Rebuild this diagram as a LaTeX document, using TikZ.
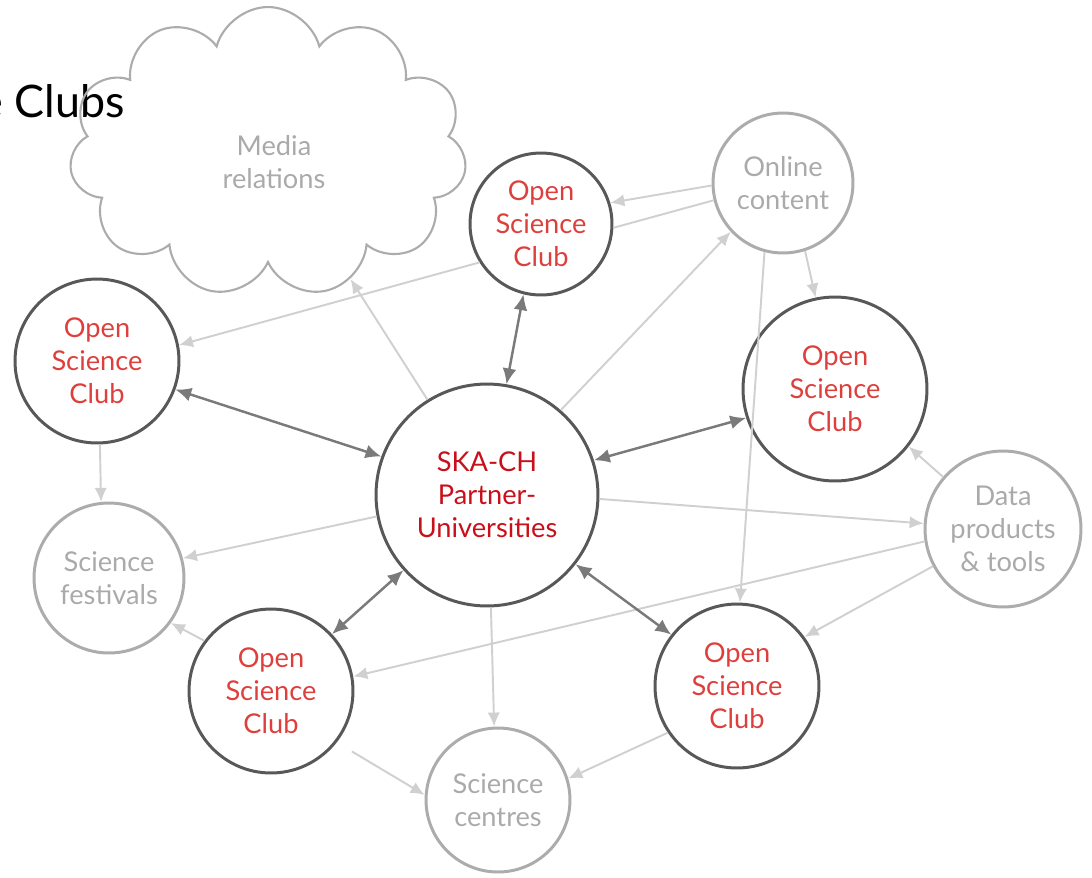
\documentclass[tikz,border=0pt]{standalone}
\usepackage{fontspec}
\setmainfont{Lato}
\usetikzlibrary{arrows.meta,shapes.symbols}

\definecolor{clubred}{RGB}{221,64,60}
\definecolor{hubred}{RGB}{200,16,26}
\definecolor{ringdark}{RGB}{88,88,88}
\definecolor{ringlight}{RGB}{172,172,172}
\definecolor{textlight}{RGB}{170,170,170}
\definecolor{arrowlight}{RGB}{208,208,208}
\definecolor{arrowdark}{RGB}{122,122,122}

\begin{document}
\begin{tikzpicture}[x=0.02cm,y=-0.02cm,
	every node/.style={align=center,font=\fontsize{15.5}{18.8}\selectfont},
	club/.style={circle,draw=ringdark,line width=1.7pt,text=clubred,inner sep=0pt},
	hub/.style={club,text=hubred},
	venue/.style={circle,draw=ringlight,line width=1.7pt,text=textlight,inner sep=0pt},
	soft/.style={-{Latex[length=8pt,width=7pt]},draw=arrowlight,line width=1.1pt},
	link/.style={{Latex[length=9pt,width=8pt]}-{Latex[length=9pt,width=8pt]},draw=arrowdark,line width=1.4pt}]

	\useasboundingbox (0,0) rectangle (1092,877);

	\node[anchor=east,inner sep=0pt,font=\fontsize{25.5}{30}\selectfont] (title) at (125,101) {e Clubs};

	\node[cloud,cloud puffs=11,aspect=1.4,draw=ringlight,line width=1.2pt,
		minimum width=7.95cm,minimum height=5.8cm] (media) at (268,152) {};
	\node[text=textlight] (medialabel) at (274,162) {Media\\relations};

	\node[hub,minimum size=4.44cm] (ska) at (487,495) {SKA-CH\\Partner-\\Universities};
	\node[club,minimum size=2.84cm] (top) at (541,224) {Open\\Science\\Club};
	\node[club,minimum size=3.28cm] (left) at (97,361) {Open\\Science\\Club};
	\node[club,minimum size=3.68cm] (right) at (835,389) {Open\\Science\\Club};
	\node[club,minimum size=3.28cm] (botleft) at (271,691) {Open\\Science\\Club};
	\node[club,minimum size=3.28cm] (botright) at (737,686) {Open\\Science\\Club};

	\node[venue,minimum size=2.8cm] (online) at (783,183) {Online\\content};
	\node[venue,minimum size=3.12cm] (data) at (1003,529) {Data\\products\\\& tools};
	\node[venue,minimum size=3.0cm] (festival) at (109,578) {Science\\festivals};
	\node[venue,minimum size=2.88cm] (centre) at (498,800) {Science\\centres};

	% light one-way links
	\draw[soft] (ska.122) -- (media.-57);
	\draw[soft] (top.212) -- (left.11);
	\draw[soft] (online.182) -- (top.17);
	\draw[draw=arrowlight,line width=1.1pt] (online.194) -- (top.-3);
	\draw[soft] (online.-72) -- (right.102);
	\draw[soft] (online.-105) -- (botright.88);
	\draw[soft] (ska.49) -- (online.223);
	\draw[soft] (left.-88) -- (festival.96);
	\draw[soft] (ska.191) -- (festival.15);
	\draw[soft] (ska.-2) -- (data.176);
	\draw[soft] (data.139) -- (right.-38);
	\draw[soft] (data.189) -- (botleft.10);
	\draw[soft] (data.208) -- (botright.36);
	\draw[soft] (botleft.143) -- (festival.-36);
	\draw[soft] (ska.-88) -- (centre.93);
	\draw[soft,shorten <=10pt] (botleft.-38) -- (centre.176);
	\draw[soft] (botright.214) -- (centre.17);

	% dark two-way links
	\draw[link] (ska.80) -- (top.-104);
	\draw[link] (ska.160) -- (left.-20);
	\draw[link] (ska.18) -- (right.198);
	\draw[link] (ska.222) -- (botleft.43);
	\draw[link] (ska.-38) -- (botright.142);

\end{tikzpicture}
\end{document}
